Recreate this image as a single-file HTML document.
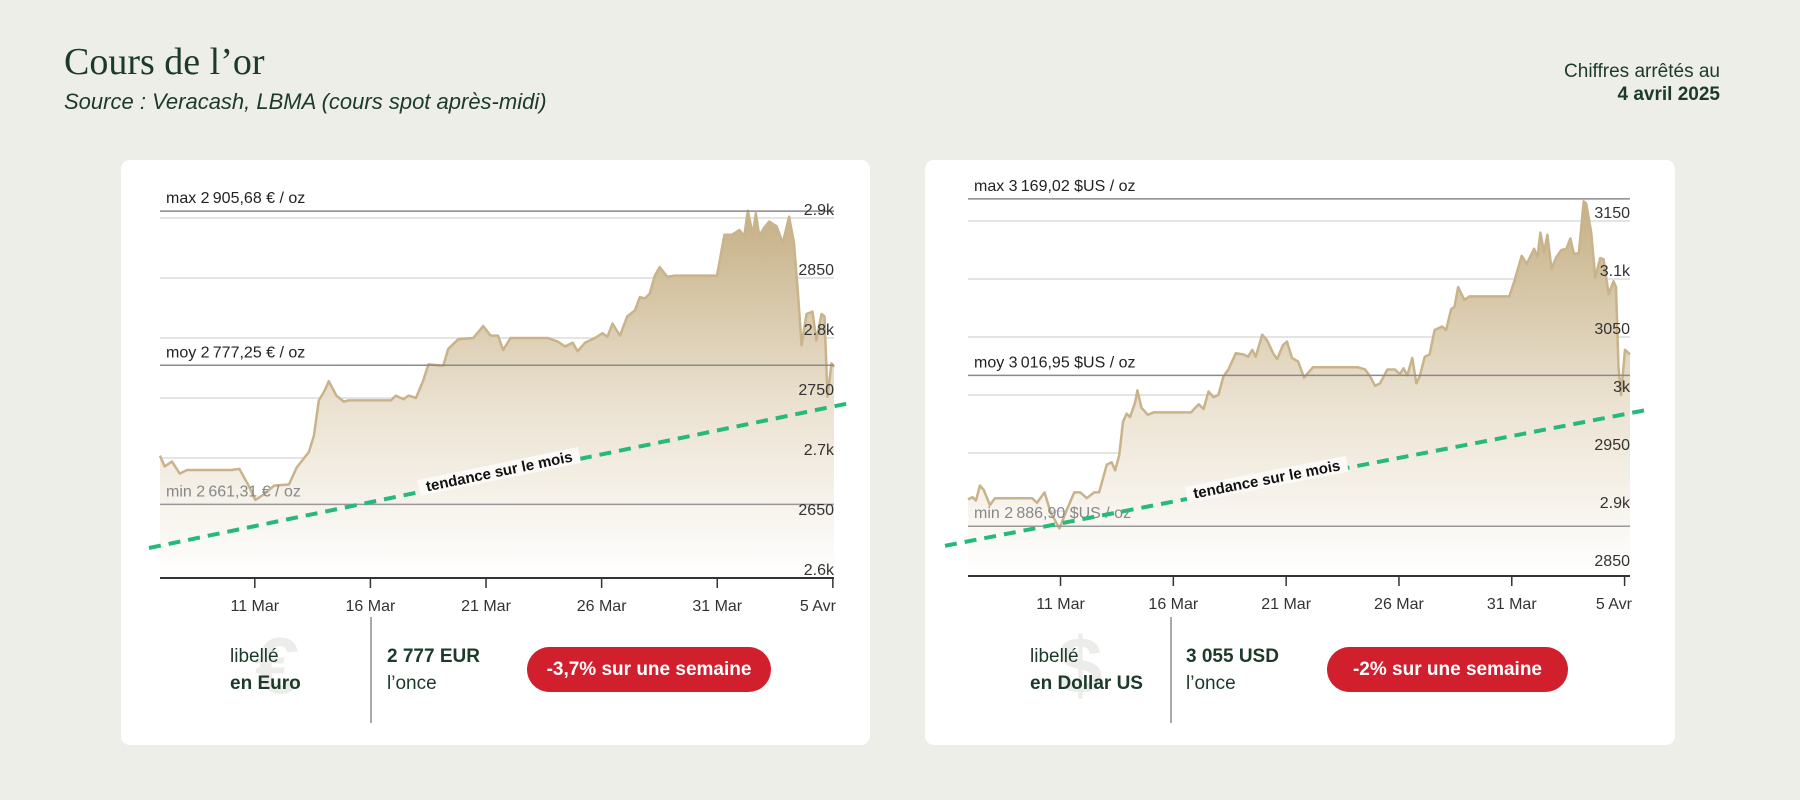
<!DOCTYPE html>
<html><head><meta charset="utf-8"><style>
body{margin:0;width:1800px;height:800px;background:#eeeee8;font-family:"Liberation Sans",sans-serif;color:#1b3a2a;position:relative;overflow:hidden}
.abs{position:absolute}
.card{position:absolute;top:160px;height:585px;background:#fff;border-radius:9px}
.lib{font-size:19px;line-height:27px}
.pill{position:absolute;background:#d11f2e;color:#fff;font-weight:bold;font-size:19px;border-radius:23px;height:45px;line-height:45px;text-align:center}
.wm{position:absolute;font-size:80px;font-weight:bold;color:#ececea}
</style></head><body>
<div class="abs" style="left:64px;top:40px;font-family:'Liberation Serif',serif;font-size:38px;color:#1b3a2a">Cours de l’or</div>
<div class="abs" style="left:64px;top:89px;font-size:22px;font-style:italic">Source : Veracash, LBMA (cours spot après-midi)</div>
<div class="abs" style="right:80px;top:60px;font-size:19px;text-align:right;line-height:23px">Chiffres arrêtés au<br><b>4 avril 2025</b></div>

<div class="card" style="left:121px;width:749px"></div>
<div class="card" style="left:925px;width:750px"></div>

<svg class="abs" style="left:0;top:0" width="1800" height="800" id="svg"></svg>

<div class="wm" style="left:255px;top:620px">€</div>
<div class="abs lib" style="left:230px;top:643px">libellé<br><b>en Euro</b></div>
<div class="abs" style="left:370px;top:617px;width:2px;height:106px;background:#aaa"></div>
<div class="abs lib" style="left:387px;top:643px"><b>2 777 EUR</b><br>l’once</div>
<div class="pill" style="left:527px;top:647px;width:244px">-3,7% sur une semaine</div>

<div class="wm" style="left:1058px;top:620px">$</div>
<div class="abs lib" style="left:1030px;top:643px">libellé<br><b>en Dollar US</b></div>
<div class="abs" style="left:1170px;top:617px;width:2px;height:106px;background:#aaa"></div>
<div class="abs lib" style="left:1186px;top:643px"><b>3 055 USD</b><br>l’once</div>
<div class="pill" style="left:1327px;top:647px;width:241px">-2% sur une semaine</div>

<script>
const eurDays=[0,0.2,0.52,0.85,1.17,3.11,3.43,3.86,4.12,4.51,4.94,5.58,5.91,6.44,6.66,6.87,7.09,7.3,7.63,7.95,8.16,9.99,10.2,10.53,10.75,11.07,11.39,11.61,12.25,12.47,12.9,13.55,13.98,14.3,14.62,14.84,15.16,16.77,17.2,17.52,17.85,18.06,18.38,18.81,19.14,19.35,19.57,19.89,20.21,20.54,20.75,20.97,21.18,21.4,21.61,21.94,22.26,24.09,24.41,24.74,25.06,25.27,25.42,25.64,25.77,25.92,26.13,26.35,26.67,26.93,27.21,27.42,27.58,27.75,27.96,28.22,28.39,28.61,28.74,28.87,29.04,29.15];
const eurValues=[2702,2693,2697,2687,2690,2690,2691,2676,2665,2670,2677,2678,2692,2705,2719,2748,2755,2764,2752,2747,2748,2748,2752,2749,2752,2750,2765,2778,2777,2791,2799,2800,2810,2802,2802,2790,2800,2800,2797,2793,2796,2789,2796,2800,2804,2801,2812,2802,2818,2823,2834,2833,2837,2852,2859,2851,2852,2852,2886,2886,2890,2885,2906,2886,2904,2885,2892,2897,2893,2879,2901,2879,2840,2794,2820,2822,2798,2820,2818,2751,2779,2776];
const eurTicks=[2600,2650,2700,2750,2800,2850,2900];
const eurTickLabels=["2.6k","2650","2.7k","2750","2.8k","2850","2.9k"];
const eurStats=[2905.68,2777.25,2661.31];
const eurTrend=[2625,2746];
const usdDays=[0,0.2,0.35,0.53,0.7,0.97,1.19,2.84,3.06,3.39,3.66,4.05,4.38,4.71,4.98,5.26,5.59,5.81,6.15,6.37,6.52,6.7,6.87,7.03,7.18,7.4,7.51,7.69,7.97,8.24,9.89,10.22,10.44,10.66,10.88,11.1,11.32,11.54,11.87,12.2,12.42,12.6,12.75,13.04,13.26,13.52,13.7,13.96,14.14,14.36,14.63,14.89,15.29,16.28,17.27,17.6,17.82,18.04,18.26,18.59,18.92,19.14,19.3,19.47,19.69,19.87,20.02,20.24,20.46,20.68,21.01,21.19,21.41,21.56,21.72,22,22.22,23.99,24.21,24.54,24.76,25.09,25.24,25.37,25.53,25.68,25.86,26.08,26.3,26.52,26.7,26.85,27.07,27.29,27.4,27.62,27.8,28.02,28.17,28.39,28.61,28.72,28.83,28.94,29.12,29.34];
const usdValues=[2910,2912,2909,2922,2918,2905,2911,2911,2907,2916,2899,2885,2901,2916,2916,2911,2916,2916,2940,2942,2935,2948,2977,2984,2981,2993,3004,2989,2983,2985,2985,2992,2988,3003,2998,3000,3016,3022,3036,3035,3033,3039,3033,3052,3047,3036,3031,3043,3046,3032,3029,3015,3024,3024,3024,3022,3016,3008,3010,3022,3022,3018,3023,3017,3032,3010,3016,3033,3035,3056,3059,3056,3074,3076,3093,3082,3085,3085,3098,3120,3113,3126,3119,3140,3123,3138,3109,3119,3125,3126,3135,3122,3122,3167,3165,3140,3101,3118,3117,3087,3098,3093,3024,3000,3039,3035];
const usdTicks=[2850,2900,2950,3000,3050,3100,3150];
const usdTickLabels=["2850","2.9k","2950","3k","3050","3.1k","3150"];
const usdStats=[3169.02,3016.95,2886.9];
const usdTrend=[2870,2987];
const dateTickDays=[4.1,9.1,14.1,19.1,24.1,29.1];
const dateTickLabels=["11 Mar","16 Mar","21 Mar","26 Mar","31 Mar","5 Avr"];

const svg=document.getElementById('svg');
const NS='http://www.w3.org/2000/svg';
function mk(tag,attrs,parent){const e=document.createElementNS(NS,tag);for(const k in attrs)e.setAttribute(k,attrs[k]);(parent||svg).appendChild(e);return e;}
const defs=mk('defs',{});
const gr=mk('linearGradient',{id:'gold',x1:0,y1:0,x2:0,y2:1},defs);
mk('stop',{offset:'0','stop-color':'#c5b085'},gr);
mk('stop',{offset:'0.55','stop-color':'#ece3d3'},gr);
mk('stop',{offset:'1','stop-color':'#ffffff'},gr);

function drawChart(c){
  const X=d=>c.x0+(d-c.d0)/(c.d1-c.d0)*(c.x1-c.x0);
  const Y=v=>c.yRef-(v-c.vRef)*c.k;
  const g=mk('g',{});
  
  
  c.ticks.forEach((t,i)=>{
    const gl=mk('line',{x1:c.x0,x2:c.x1,y1:Y(t),y2:Y(t),stroke:'#e4e4e4','stroke-width':2},g);
    
    
  });
  let p='M'+X(c.days[0])+','+c.base;
  c.days.forEach((d,i)=>p+=' L'+X(d).toFixed(1)+','+Y(c.vals[i]).toFixed(1));
  p+=' L'+X(c.days[c.days.length-1])+','+c.base+'Z';
  const area=mk('path',{d:p,fill:'url(#gold)'},g);
  
  
  let lp='';
  c.days.forEach((d,i)=>lp+=(i?' L':'M')+X(d).toFixed(1)+','+Y(c.vals[i]).toFixed(1));
  const line=mk('path',{d:lp,fill:'none',stroke:'#c9b38a','stroke-width':2.5,'stroke-linejoin':'round'},g);
  
  
  const labs=['max','moy','min'];
  c.stats.forEach((s,i)=>{
    const l=mk('line',{x1:c.x0,x2:c.x1,y1:Y(s),y2:Y(s),stroke:i==2?'#999':'#8a8a8a','stroke-width':1.5},g);
    
    
    const t=mk('text',{x:c.x0+6,y:Y(s)-8,'font-size':16,fill:i==2?'#888':'#222'},g);
    
    
    t.textContent=labs[i]+' '+s.toFixed(2).replace('.',',').replace(/^(\d)(\d{3})/,'$1\u2009$2')+' '+c.unit+' / oz';
  });
  c.ticks.forEach((t,i)=>{
    const tx=mk('text',{x:c.x1,y:Y(t)-3,'font-size':16,fill:'#333','text-anchor':'end'},g);
    
    
    tx.textContent=c.tickLabels[i];
  });
  const ax=mk('line',{x1:c.x0,x2:c.x1,y1:c.base,y2:c.base,stroke:'#333','stroke-width':2},g);
  
  
  dateTickDays.forEach((d,i)=>{
    const tk=mk('line',{x1:X(d),x2:X(d),y1:c.base,y2:c.base+10,stroke:'#333','stroke-width':1.5},g);
    
    
    const tl=mk('text',{x:X(d),y:c.base+33,'font-size':16,fill:'#333','text-anchor':i==dateTickDays.length-1?'end':'middle'},g);
    
    
    if(i==dateTickDays.length-1)tl.setAttribute('x',c.x1+2);
    tl.textContent=dateTickLabels[i];
  });
  const tx0=c.tx0,tx1=c.tx1;
  const ty0=Y(c.trend[0]),ty1=Y(c.trend[1]);
  const tr=mk('line',{x1:tx0,y1:ty0,x2:tx1,y2:ty1,stroke:'#27b97a','stroke-width':4,'stroke-dasharray':'12 8'},g);
  
  
  const ang=Math.atan2(ty1-ty0,tx1-tx0)*180/Math.PI;
  const mx=tx0+(tx1-tx0)*c.tPos, my=ty0+(ty1-ty0)*c.tPos;
  const tg=mk('g',{transform:`translate(${mx},${my}) rotate(${ang})`},g);
  const bg=mk('rect',{x:-82,y:-12,width:164,height:16,fill:'#fbfaf7'},tg);
  
  
  const tt=mk('text',{x:0,y:1,'font-size':15,'font-weight':'bold',fill:'#111','text-anchor':'middle'},tg);
  
  
  tt.textContent='tendance sur le mois';
}
drawChart({name:'euro',days:eurDays,vals:eurValues,ticks:eurTicks,tickLabels:eurTickLabels,stats:eurStats,trend:eurTrend,unit:'€',
  x0:160,x1:834,d0:0,d1:29.15,yRef:578,vRef:2600,k:1.2,base:578,tx0:149,tx1:851,tPos:0.5});
drawChart({name:'usd',days:usdDays,vals:usdValues,ticks:usdTicks,tickLabels:usdTickLabels,stats:usdStats,trend:usdTrend,unit:'$US',
  x0:968,x1:1630,d0:0,d1:29.34,yRef:395,vRef:3000,k:1.16,base:576,tx0:945,tx1:1646,tPos:0.46});
</script>
</body></html>
